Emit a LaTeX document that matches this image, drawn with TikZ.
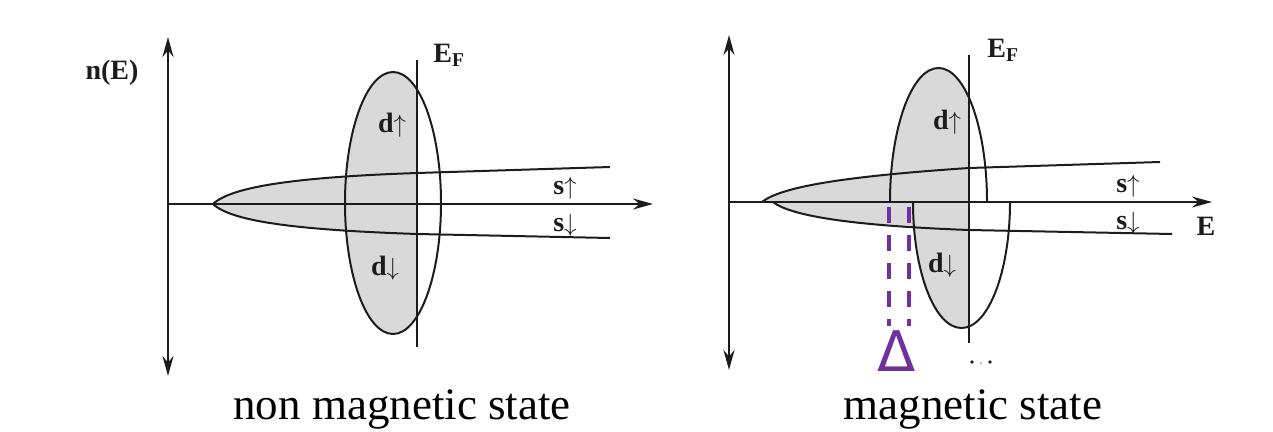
\documentclass[tikz,border=0pt]{standalone}
\usepackage{fontspec}
\setmainfont{Liberation Serif}
\newfontfamily\dvs{DejaVu Sans}
\usetikzlibrary{arrows.meta}
\definecolor{ink}{HTML}{1C1C1C}
\definecolor{purp}{HTML}{7030A0}
\definecolor{shadec}{HTML}{D9D9D9}
\begin{document}
\begin{tikzpicture}[x=1pt,y=-1pt,
  ax/.style={draw=ink,line width=2.1pt},
  tipA/.style={-{Stealth[length=20pt,width=11pt]}},
  tipB/.style={{Stealth[length=20pt,width=11pt]}-{Stealth[length=20pt,width=11pt]}},
  band/.style={draw=ink,line width=2pt},
  fillc/.style={fill=shadec},
  lbl/.style={font=\fontsize{28}{30}\selectfont\bfseries,text=ink,inner sep=0pt},
  captext/.style={font=\fontsize{45}{50}\selectfont,text=black,inner sep=0pt,anchor=base},
  delt/.style={purp,line width=4.5pt,dash pattern=on 16pt off 12pt}
]
\useasboundingbox (0,0) rectangle (1273,431);

% ---------------- left panel: non magnetic ----------------
\coordinate (LvT) at (168,37);
\coordinate (LvB) at (168,376);
\coordinate (LO) at (168,204);
\coordinate (LhE) at (653,204);
\coordinate (Ltip) at (213,204);
\coordinate (LuF) at (417,173);
\coordinate (LdF) at (417,234);
\coordinate (LuE) at (610,167);
\coordinate (LdE) at (610,238);
\coordinate (LEFt) at (417,60);
\coordinate (LEFb) at (417,347);
\coordinate (Lell) at (393,203);

\begin{scope}
  \clip (0,0) rectangle (417,431);
  \fill[fillc] (Lell) ellipse[x radius=48, y radius=131];
  \fill[fillc] (Ltip) .. controls (232,186) and (300,177) .. (LuF) -- (LdF)
     .. controls (300,230) and (232,222) .. (Ltip) -- cycle;
\end{scope}

\draw[ax,tipB] (LvB) -- (LvT);
\draw[ax,tipA] (LO) -- (LhE);
\draw[band] (Ltip) .. controls (232,186) and (300,177) .. (LuF) -- (LuE);
\draw[band] (Ltip) .. controls (232,222) and (300,230) .. (LdF) -- (LdE);
\draw[band] (Lell) ellipse[x radius=48, y radius=131];
\draw[ax] (LEFb) -- (LEFt);

\node[lbl] (nE) at (112,73) {n(E)};
\node[lbl] (LEF) at (449,55) {E\textsubscript{F}};
\node[lbl] (Ldu) at (392,125) {d$\uparrow$};
\node[lbl] (Ldd) at (385,268) {d$\downarrow$};
\node[lbl] (Lsu) at (565,188) {s$\uparrow$};
\node[lbl] (Lsd) at (565,225) {s$\downarrow$};

% ---------------- right panel: magnetic ----------------
\coordinate (RvT) at (729,35);
\coordinate (RvB) at (729,370);
\coordinate (RO) at (729,202);
\coordinate (RhE) at (1212,202);
\coordinate (Rtu) at (762,202);
\coordinate (Rtd) at (773,202);
\coordinate (RuF) at (969,168);
\coordinate (RdF) at (969,230);
\coordinate (RuE) at (1160,162);
\coordinate (RdE) at (1172,234);
\coordinate (REFt) at (969,55);
\coordinate (REFb) at (969,343);
\coordinate (Rup) at (890,202);
\coordinate (Rdn) at (913,202);

\begin{scope}
  \clip (0,0) rectangle (969,431);
  \fill[fillc] (Rup) arc[start angle=180,end angle=360,x radius=48.5,y radius=134] -- cycle;
  \fill[fillc] (Rdn) arc[start angle=180,end angle=0,x radius=48.5,y radius=126] -- cycle;
  \fill[fillc] (Rtu) .. controls (782,186) and (850,176) .. (RuF) -- (RdF)
     .. controls (860,226) and (792,217) .. (Rtd) -- cycle;
\end{scope}

\draw[ax,tipB] (RvB) -- (RvT);
\draw[ax,tipA] (RO) -- (RhE);
\draw[band] (Rtu) .. controls (782,186) and (850,176) .. (RuF) -- (RuE);
\draw[band] (Rtd) .. controls (792,217) and (860,226) .. (RdF) -- (RdE);
\draw[band] (Rup) arc[start angle=180,end angle=360,x radius=48.5,y radius=134];
\draw[band] (Rdn) arc[start angle=180,end angle=0,x radius=48.5,y radius=126];
\draw[ax] (REFb) -- (REFt);

\node[lbl] (REF) at (1003,50) {E\textsubscript{F}};
\node[lbl] (Rdu) at (947,122) {d$\uparrow$};
\node[lbl] (Rdd) at (942,265) {d$\downarrow$};
\node[lbl] (Rsu) at (1128,186) {s$\uparrow$};
\node[lbl] (Rsd) at (1128,223) {s$\downarrow$};
\node[lbl] (RE) at (1206,226) {E};

\fill[ink] (972,362) circle[radius=1.8];
\fill[ink!40] (981,363) circle[radius=1.2];
\fill[ink] (990,362) circle[radius=1.8];

% ---------------- Delta marker ----------------
\coordinate (Da1) at (889,207);
\coordinate (Da2) at (889,326);
\coordinate (Db1) at (909,207);
\coordinate (Db2) at (909,326);
\draw[delt] (Da1) -- (Da2);
\draw[delt] (Db1) -- (Db2);
\node[text=purp,font=\dvs\fontsize{56}{57}\selectfont,inner sep=0pt,anchor=south,text depth=0pt] (delta) at (897,372) {Δ};

% ---------------- captions ----------------
\node[captext] (c1) at (402,419) {non magnetic state};
\node[captext] (c2) at (973,419) {magnetic state};
\end{tikzpicture}
\end{document}
